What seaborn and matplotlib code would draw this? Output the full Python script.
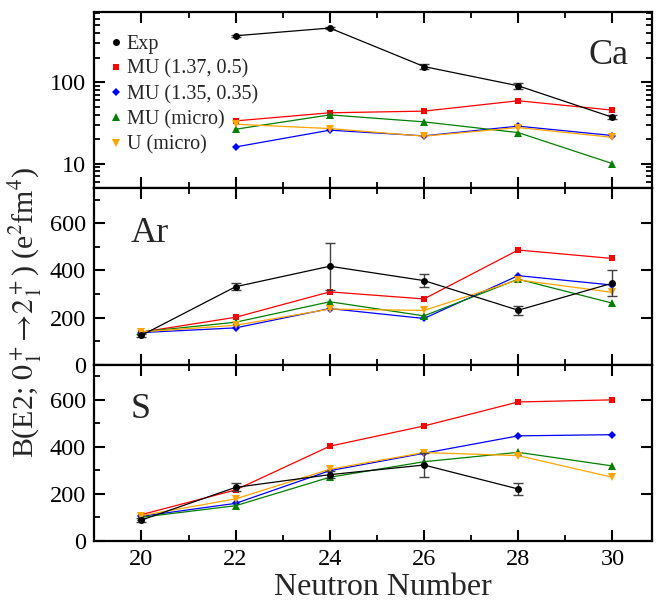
import numpy as np
import pandas as pd
import seaborn as sns
import matplotlib
matplotlib.use("Agg")
import matplotlib.pyplot as plt
from matplotlib.ticker import MultipleLocator, FixedLocator, FixedFormatter, NullFormatter, LogLocator

sns.set_theme(style="ticks")
plt.rcParams["font.family"] = ["Liberation Serif", "DejaVu Serif"]
plt.rcParams["mathtext.fontset"] = "stix"

# Neutron numbers
n_ca = [22, 24, 26, 28, 30]
n_ar = [20, 22, 24, 26, 28, 30]
n_s = [20, 22, 24, 26, 28, 30]
n_s_exp = [20, 22, 24, 26, 28]

# Ca isotopes
ca_exp = [370, 460, 155, 90, 37]
ca_exp_err = [10, 15, 12, 8, 2]
ca_mu1 = [33.4, 42, 44, 59, 45.3]
ca_mu2 = [16, 25.7, 21.9, 28.8, 22.1]
ca_micro = [26.4, 39.6, 32.5, 24, 10]
ca_u = [30.4, 26.9, 21.7, 27.7, 21]

# Ar isotopes
ar_exp = [124, 331, 418, 357, 231, 346]
ar_exp_err = [8, 15, 100, 28, 20, 55]
ar_mu1 = [138, 201, 309, 279, 487, 451]
ar_mu2 = [136, 156, 238, 196, 378, 338]
ar_micro = [139, 180, 267, 207, 363, 261]
ar_u = [139, 167, 236, 230, 360, 307]

# S isotopes
s_exp = [89, 228, 282, 323, 221]
s_exp_err = [8, 17, 15, 50, 27]
s_mu1 = [112, 217, 403, 489, 591, 600]
s_mu2 = [105, 160, 299, 373, 447, 452]
s_micro = [101, 150, 271, 337, 377, 319]
s_u = [108, 179, 305, 376, 363, 271]

labels = ["Exp", "MU (1.37, 0.5)", "MU (1.35, 0.35)", "MU (micro)", "U (micro)"]
colors = ["black", "#ff0000", "#0000ff", "#008000", "#ffa500"]
markers = ["o", "s", "D", "^", "v"]
msizes = [5, 5, 4, 5.5, 5.5]

W, H = 658, 601
fig = plt.figure(figsize=(W / 100, H / 100), dpi=100)
left, right = 94.3 / W, 651.5 / W
top, bottom = 1 - 11.7 / H, 1 - 541 / H
ph = (top - bottom) / 3
axes = [fig.add_axes([left, top - (i + 1) * ph, right - left, ph]) for i in range(3)]

panels = [
    ("Ca", n_ca, n_ca, ca_exp, ca_exp_err, [ca_mu1, ca_mu2, ca_micro, ca_u]),
    ("Ar", n_ar, n_ar, ar_exp, ar_exp_err, [ar_mu1, ar_mu2, ar_micro, ar_u]),
    ("S", n_s, n_s_exp, s_exp, s_exp_err, [s_mu1, s_mu2, s_micro, s_u]),
]

for i, (ax, (name, n_th, n_exp, exp, err, theory)) in enumerate(zip(axes, panels)):
    series = [(n_exp, exp)] + [(n_th, t) for t in theory]
    for k, (xs, ys) in enumerate(series):
        df = pd.DataFrame({"N": xs, "B": ys})
        sns.lineplot(data=df, x="N", y="B", ax=ax, color=colors[k], marker=markers[k],
                     markersize=msizes[k], markeredgewidth=0, linewidth=0.9,
                     label=labels[k], legend=False, zorder=5 if k == 0 else 3)
    ax.errorbar(n_exp, exp, yerr=err, fmt="none", ecolor="#404040", elinewidth=1.0,
                capsize=3.5, capthick=1.0, zorder=4)

    ax.set_xlim(19, 30.83)
    ax.xaxis.set_major_locator(MultipleLocator(2))
    ax.xaxis.set_minor_locator(MultipleLocator(1))
    ax.set_xlabel("")
    ax.set_ylabel("")
    for sp in ax.spines.values():
        sp.set_linewidth(1.6)
        sp.set_color("black")
    ax.tick_params(which="both", direction="in", top=True, right=True, colors="black",
                   labelsize=17.5)
    ax.tick_params(which="major", length=8, width=1.5)
    ax.tick_params(which="minor", length=4.5, width=1.3)
    ax.tick_params(axis="both", which="major", pad=6)

    if i == 0:
        ax.set_yscale("log")
        ax.set_ylim(5, 730)
        ax.yaxis.set_major_locator(FixedLocator([10, 100]))
        ax.yaxis.set_major_formatter(FixedFormatter(["10", "100"]))
        ax.yaxis.set_minor_locator(LogLocator(base=10, subs=np.arange(2, 10)))
        ax.yaxis.set_minor_formatter(NullFormatter())
        ax.text(0.958, 0.75, name, transform=ax.transAxes, ha="right", va="center", fontsize=26)
        leg_handles = [plt.Line2D([], [], color=colors[k], marker=markers[k], linestyle="none",
                                  markersize=msizes[k], markeredgewidth=0) for k in range(5)]
        ax.legend(leg_handles, labels, loc="upper left", bbox_to_anchor=(-0.005, 0.985),
                  frameon=False, fontsize=14.5, handlelength=0.45, handletextpad=0.3,
                  labelspacing=0.3, borderaxespad=0.6)
    else:
        ax.set_ylim(0, 750)
        ax.yaxis.set_major_locator(MultipleLocator(200))
        ax.yaxis.set_minor_locator(MultipleLocator(100))
        ax.tick_params(axis="y", which="minor", right=False)
        ax.text(0.065, 0.745, name, transform=ax.transAxes, ha="left", va="center", fontsize=26)

    if i < 2:
        ax.tick_params(axis="x", labelbottom=False)

fig.text(383 / W, 1 - 595 / H, "Neutron Number", ha="center", va="baseline", fontsize=23)
fig.text(25 / W, 1 - 312 / H,
         r"B(E2; $0^+_1\!\rightarrow\!2^+_1$) (e$^2$fm$^4$)",
         rotation=90, ha="center", va="center", fontsize=21.5)

fig.savefig("out.png", dpi=100)
